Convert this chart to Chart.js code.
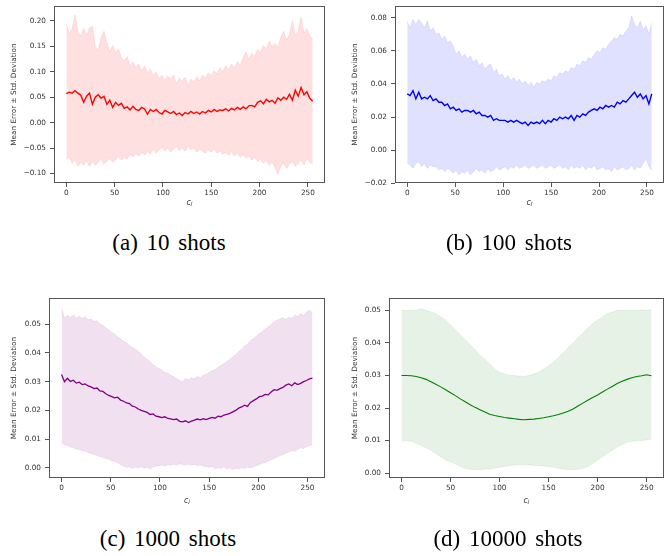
<!DOCTYPE html>
<html><head><meta charset="utf-8">
<script src="https://cdn.jsdelivr.net/npm/chart.js"></script>
<style>
html,body{margin:0;padding:0;background:#fff;width:664px;height:556px;overflow:hidden;position:relative}
canvas{position:absolute}
.cap{position:absolute;width:300px;text-align:center;font-family:"Liberation Serif","Times New Roman",serif;font-size:23px;line-height:23px;word-spacing:3px;color:#000;white-space:nowrap}
</style></head><body>
<canvas id="cA"></canvas>
<canvas id="cB"></canvas>
<canvas id="cC"></canvas>
<canvas id="cD"></canvas>
<div class="cap" style="left:19px;top:231px">(a) 10 shots</div>
<div class="cap" style="left:359px;top:231px">(b) 100 shots</div>
<div class="cap" style="left:18px;top:527px">(c) 1000 shots</div>
<div class="cap" style="left:358px;top:527px">(d) 10000 shots</div>
<script>
// ---- data ----
const xs3 = [0,3,6,9,12,15,18,21,24,27,30,33,36,39,42,45,48,51,54,57,60,63,66,69,72,75,78,81,84,87,90,93,96,99,102,105,108,111,114,117,120,123,126,129,132,135,138,141,144,147,150,153,156,159,162,165,168,171,174,177,180,183,186,189,192,195,198,201,204,207,210,213,216,219,222,225,228,231,234,237,240,243,246,249,252,255];
const xs5 = [0,5,10,15,20,25,30,35,40,45,50,55,60,65,70,75,80,85,90,95,100,105,110,115,120,125,130,135,140,145,150,155,160,165,170,175,180,185,190,195,200,205,210,215,220,225,230,235,240,245,250,255];
const xTicks = [0,50,100,150,200,250];
const xTickLabels = ["0","50","100","150","200","250"];

// (a) 10 shots
const meanA = [0.057,0.060,0.058,0.063,0.058,0.054,0.040,0.052,0.058,0.036,0.050,0.055,0.048,0.052,0.036,0.044,0.030,0.040,0.034,0.038,0.028,0.031,0.025,0.032,0.026,0.024,0.030,0.027,0.017,0.026,0.022,0.026,0.020,0.017,0.024,0.021,0.018,0.022,0.016,0.019,0.014,0.020,0.017,0.022,0.018,0.021,0.017,0.022,0.019,0.024,0.021,0.026,0.022,0.025,0.024,0.027,0.023,0.028,0.025,0.030,0.026,0.031,0.027,0.033,0.034,0.031,0.040,0.043,0.037,0.046,0.041,0.044,0.038,0.049,0.044,0.050,0.046,0.056,0.044,0.064,0.052,0.069,0.055,0.061,0.048,0.042];
const upperA = [0.195,0.175,0.185,0.212,0.180,0.170,0.185,0.172,0.186,0.190,0.150,0.142,0.168,0.180,0.158,0.140,0.152,0.138,0.145,0.128,0.122,0.130,0.112,0.120,0.108,0.115,0.102,0.112,0.098,0.105,0.092,0.100,0.086,0.094,0.083,0.092,0.086,0.094,0.076,0.088,0.082,0.090,0.073,0.086,0.080,0.090,0.082,0.094,0.088,0.098,0.092,0.102,0.096,0.108,0.100,0.112,0.104,0.115,0.108,0.120,0.114,0.128,0.140,0.124,0.136,0.130,0.144,0.138,0.152,0.145,0.160,0.150,0.156,0.148,0.168,0.180,0.162,0.174,0.200,0.172,0.180,0.208,0.176,0.185,0.170,0.165];
const lowerA = [-0.072,-0.068,-0.080,-0.072,-0.086,-0.078,-0.084,-0.074,-0.086,-0.076,-0.084,-0.078,-0.072,-0.082,-0.076,-0.070,-0.078,-0.072,-0.066,-0.074,-0.068,-0.072,-0.062,-0.068,-0.060,-0.066,-0.058,-0.064,-0.056,-0.062,-0.052,-0.060,-0.054,-0.048,-0.056,-0.050,-0.058,-0.052,-0.047,-0.055,-0.050,-0.056,-0.046,-0.054,-0.050,-0.058,-0.052,-0.056,-0.060,-0.054,-0.058,-0.052,-0.060,-0.056,-0.062,-0.058,-0.064,-0.056,-0.066,-0.060,-0.068,-0.062,-0.070,-0.066,-0.074,-0.068,-0.076,-0.072,-0.080,-0.074,-0.084,-0.078,-0.088,-0.102,-0.086,-0.080,-0.090,-0.082,-0.076,-0.086,-0.080,-0.074,-0.084,-0.070,-0.078,-0.082];
const yTicksA = [-0.10,-0.05,0.00,0.05,0.10,0.15,0.20];
const yLabelsA = ["\u22120.10","\u22120.05","0.00","0.05","0.10","0.15","0.20"];

// (b) 100 shots
const meanB = [0.034,0.033,0.036,0.031,0.035,0.031,0.032,0.031,0.033,0.030,0.031,0.029,0.029,0.027,0.028,0.025,0.026,0.024,0.025,0.023,0.024,0.024,0.023,0.024,0.022,0.023,0.021,0.021,0.020,0.021,0.018,0.019,0.018,0.018,0.018,0.017,0.018,0.017,0.018,0.017,0.016,0.017,0.015,0.017,0.016,0.017,0.016,0.018,0.016,0.018,0.017,0.019,0.018,0.020,0.019,0.020,0.019,0.021,0.018,0.021,0.020,0.022,0.021,0.023,0.024,0.025,0.024,0.026,0.025,0.027,0.026,0.027,0.026,0.029,0.028,0.030,0.029,0.031,0.033,0.035,0.032,0.034,0.031,0.033,0.028,0.034];
const upperB = [0.078,0.074,0.079,0.076,0.079,0.077,0.074,0.078,0.072,0.074,0.070,0.071,0.067,0.069,0.065,0.066,0.063,0.058,0.060,0.056,0.058,0.055,0.057,0.053,0.055,0.051,0.053,0.049,0.051,0.052,0.047,0.049,0.045,0.046,0.043,0.045,0.042,0.044,0.041,0.043,0.040,0.042,0.039,0.041,0.038,0.041,0.040,0.042,0.041,0.043,0.042,0.045,0.044,0.047,0.046,0.048,0.047,0.050,0.049,0.052,0.051,0.054,0.053,0.056,0.055,0.058,0.060,0.059,0.062,0.061,0.064,0.066,0.068,0.067,0.070,0.069,0.072,0.074,0.081,0.076,0.074,0.078,0.073,0.075,0.070,0.077];
const lowerB = [-0.008,-0.009,-0.011,-0.008,-0.007,-0.010,-0.008,-0.011,-0.009,-0.010,-0.010,-0.012,-0.011,-0.013,-0.011,-0.012,-0.014,-0.012,-0.015,-0.013,-0.014,-0.012,-0.015,-0.013,-0.011,-0.013,-0.012,-0.014,-0.011,-0.013,-0.012,-0.010,-0.012,-0.011,-0.010,-0.012,-0.010,-0.011,-0.009,-0.011,-0.010,-0.009,-0.011,-0.010,-0.009,-0.011,-0.010,-0.009,-0.011,-0.010,-0.009,-0.011,-0.010,-0.009,-0.011,-0.010,-0.012,-0.009,-0.011,-0.010,-0.011,-0.009,-0.012,-0.010,-0.011,-0.009,-0.012,-0.011,-0.010,-0.012,-0.011,-0.013,-0.010,-0.012,-0.011,-0.010,-0.012,-0.011,-0.009,-0.012,-0.010,-0.011,-0.008,-0.005,-0.010,-0.012];
const yTicksB = [-0.02,0.00,0.02,0.04,0.06,0.08];
const yLabelsB = ["\u22120.02","0.00","0.02","0.04","0.06","0.08"];

// (c) 1000 shots
const meanC = [0.0325,0.0300,0.0312,0.0301,0.0305,0.0295,0.0298,0.0290,0.0292,0.0285,0.0282,0.0276,0.0278,0.0268,0.0266,0.0258,0.0252,0.0248,0.0244,0.0246,0.0236,0.0232,0.0226,0.0224,0.0215,0.0212,0.0205,0.0200,0.0197,0.0193,0.0186,0.0188,0.0180,0.0178,0.0175,0.0178,0.0172,0.0171,0.0168,0.0170,0.0162,0.0160,0.0164,0.0158,0.0163,0.0166,0.0170,0.0167,0.0171,0.0168,0.0172,0.0176,0.0173,0.0180,0.0178,0.0184,0.0186,0.0190,0.0195,0.0200,0.0208,0.0212,0.0218,0.0214,0.0228,0.0234,0.0240,0.0248,0.0250,0.0256,0.0254,0.0264,0.0272,0.0270,0.0276,0.0280,0.0288,0.0292,0.0286,0.0296,0.0290,0.0294,0.0300,0.0304,0.0310,0.0312];
const upperC = [0.0558,0.0522,0.0530,0.0524,0.0532,0.0521,0.0528,0.0519,0.0526,0.0515,0.0518,0.0509,0.0512,0.0500,0.0496,0.0488,0.0480,0.0472,0.0466,0.0455,0.0448,0.0440,0.0436,0.0425,0.0420,0.0412,0.0405,0.0396,0.0385,0.0378,0.0368,0.0360,0.0352,0.0346,0.0340,0.0332,0.0330,0.0322,0.0318,0.0310,0.0304,0.0300,0.0312,0.0306,0.0314,0.0310,0.0318,0.0314,0.0322,0.0326,0.0332,0.0338,0.0342,0.0350,0.0356,0.0362,0.0370,0.0378,0.0386,0.0394,0.0404,0.0414,0.0424,0.0430,0.0442,0.0450,0.0458,0.0468,0.0474,0.0484,0.0490,0.0500,0.0508,0.0514,0.0518,0.0522,0.0516,0.0524,0.0520,0.0532,0.0526,0.0538,0.0530,0.0542,0.0548,0.0540];
const lowerC = [0.0090,0.0080,0.0078,0.0073,0.0070,0.0066,0.0064,0.0060,0.0058,0.0054,0.0050,0.0047,0.0043,0.0040,0.0037,0.0032,0.0030,0.0025,0.0022,0.0018,0.0012,0.0006,0.0002,0.0004,-0.0002,0.0003,0.0000,0.0004,-0.0001,0.0002,-0.0004,0.0003,0.0006,0.0008,0.0010,0.0007,0.0011,0.0009,0.0013,0.0010,0.0014,0.0012,0.0010,0.0013,0.0009,0.0011,0.0008,0.0010,0.0006,0.0004,0.0002,0.0004,-0.0004,0.0001,-0.0002,0.0003,-0.0003,0.0000,-0.0005,-0.0001,-0.0003,0.0001,-0.0002,0.0002,0.0000,0.0004,0.0008,0.0012,0.0016,0.0019,0.0024,0.0028,0.0033,0.0038,0.0042,0.0046,0.0052,0.0056,0.0060,0.0058,0.0065,0.0070,0.0068,0.0074,0.0078,0.0080];
const yTicksC = [0.00,0.01,0.02,0.03,0.04,0.05];
const yLabelsC = ["0.00","0.01","0.02","0.03","0.04","0.05"];

// (d) 10000 shots
const meanD = [0.0300,0.0300,0.0299,0.0297,0.0293,0.0288,0.0281,0.0273,0.0265,0.0256,0.0247,0.0238,0.0228,0.0219,0.0210,0.0202,0.0195,0.0188,0.0181,0.0177,0.0174,0.0171,0.0169,0.0167,0.0165,0.0164,0.0165,0.0166,0.0168,0.0170,0.0173,0.0176,0.0180,0.0185,0.0190,0.0197,0.0206,0.0215,0.0224,0.0232,0.0240,0.0249,0.0258,0.0266,0.0275,0.0282,0.0288,0.0293,0.0297,0.0299,0.0302,0.0299];
const upperD = [0.0500,0.0500,0.0501,0.0500,0.0505,0.0500,0.0495,0.0490,0.0480,0.0470,0.0455,0.0440,0.0425,0.0410,0.0395,0.0380,0.0362,0.0350,0.0335,0.0320,0.0310,0.0305,0.0300,0.0300,0.0298,0.0297,0.0300,0.0305,0.0310,0.0320,0.0330,0.0340,0.0355,0.0370,0.0385,0.0400,0.0415,0.0430,0.0445,0.0460,0.0470,0.0480,0.0490,0.0495,0.0500,0.0500,0.0501,0.0500,0.0500,0.0502,0.0500,0.0502];
const lowerD = [0.0100,0.0100,0.0098,0.0092,0.0085,0.0078,0.0070,0.0060,0.0050,0.0040,0.0035,0.0028,0.0020,0.0015,0.0012,0.0010,0.0010,0.0012,0.0013,0.0015,0.0018,0.0020,0.0023,0.0025,0.0026,0.0026,0.0025,0.0024,0.0023,0.0022,0.0020,0.0018,0.0015,0.0013,0.0011,0.0010,0.0012,0.0015,0.0020,0.0030,0.0040,0.0050,0.0060,0.0070,0.0080,0.0088,0.0095,0.0098,0.0100,0.0100,0.0102,0.0105];
const yTicksD = [0.00,0.01,0.02,0.03,0.04,0.05];
const yLabelsD = ["0.00","0.01","0.02","0.03","0.04","0.05"];

const yTitle = "Mean Error \u00b1 Std. Deviation";
const xTitle = "c\u2c7c";

// ---- drawing ----
const AX = '#555', TXT = '#333';
const tickFont = {family: "'DejaVu Sans', sans-serif", size: 7.3};
const framePlugin = {
  id: 'frame',
  afterDraw(chart) {
    const {ctx, chartArea: {left, top, right, bottom}} = chart;
    ctx.save(); ctx.strokeStyle = AX; ctx.lineWidth = 1;
    ctx.strokeRect(left + 0.5, top + 0.5, right - left - 1, bottom - top - 1);
    ctx.restore();
  }
};
const pts = (xv, arr) => xv.map((x, i) => ({x: x, y: arr[i]}));

function panel(p) {
  const cv = document.getElementById(p.id);
  cv.width = p.w; cv.height = p.h;
  cv.style.left = p.left + 'px'; cv.style.top = p.top + 'px';
  cv.style.width = p.w + 'px'; cv.style.height = p.h + 'px';
  new Chart(cv, {
    type: 'line',
    data: {datasets: [
      {data: pts(p.xs, p.mean), borderColor: p.line, borderWidth: p.lw, pointRadius: 0, fill: false, tension: 0},
      {data: pts(p.xs, p.upper), borderColor: p.edge, borderWidth: 1, pointRadius: 0, backgroundColor: p.fillc, fill: '+1', tension: 0},
      {data: pts(p.xs, p.lower), borderColor: p.edge, borderWidth: 1, pointRadius: 0, fill: false, tension: 0}
    ]},
    options: {
      responsive: false, animation: false, devicePixelRatio: 1,
      layout: {padding: {left: 0, top: 20, right: 20, bottom: 0}},
      plugins: {legend: {display: false}, tooltip: {enabled: false}},
      scales: {
        x: {
          type: 'linear', min: -12.75, max: 267.75,
          afterBuildTicks: s => { s.ticks = xTicks.map(v => ({value: v})); },
          afterFit: s => { s.height = p.xH; },
          grid: {drawOnChartArea: false, drawTicks: true, tickLength: 4, color: AX, lineWidth: 1},
          border: {display: false},
          ticks: {font: tickFont, color: TXT, padding: 2, maxRotation: 0, autoSkip: false,
                  callback: (v, i) => xTickLabels[i]},
          title: {display: true, text: xTitle, color: TXT, padding: {top: 0, bottom: 2},
                  font: {family: "'DejaVu Sans', sans-serif", size: 8, style: 'italic'}}
        },
        y: {
          type: 'linear', min: p.yMin, max: p.yMax,
          afterBuildTicks: s => { s.ticks = p.yTicks.map(v => ({value: v})); },
          afterFit: s => { s.width = p.yW; },
          grid: {drawOnChartArea: false, drawTicks: true, tickLength: 4, color: AX, lineWidth: 1},
          border: {display: false},
          ticks: {font: tickFont, color: TXT, padding: 4, autoSkip: false,
                  callback: (v, i) => p.yLabels[i]},
          title: {display: true, text: yTitle, color: TXT, padding: {top: p.yTitlePad, bottom: 0},
                  font: {family: "'DejaVu Sans', sans-serif", size: 7.3}}
        }
      }
    },
    plugins: [framePlugin]
  });
}

panel({id: 'cA', left: 0, top: -14, w: 345, h: 224, yW: 54, xH: 27, yTitlePad: 9.9, xs: xs3,
  mean: meanA, upper: upperA, lower: lowerA, yMin: -0.1187, yMax: 0.2295, yTicks: yTicksA, yLabels: yLabelsA,
  line: 'rgb(255,0,0)', lw: 1.4, fillc: 'rgba(255,0,0,0.12)', edge: 'rgba(255,0,0,0.09)'});
panel({id: 'cB', left: 332, top: -14, w: 352, h: 224, yW: 63, xH: 27, yTitlePad: 19.1, xs: xs3,
  mean: meanB, upper: upperB, lower: lowerB, yMin: -0.0198, yMax: 0.0871, yTicks: yTicksB, yLabels: yLabelsB,
  line: 'rgb(0,0,255)', lw: 1.4, fillc: 'rgba(0,0,255,0.12)', edge: 'rgba(0,0,255,0.08)'});
panel({id: 'cC', left: 0, top: 278, w: 345, h: 230, yW: 49, xH: 30, yTitlePad: 10.1, xs: xs3,
  mean: meanC, upper: upperC, lower: lowerC, yMin: -0.0035, yMax: 0.0591, yTicks: yTicksC, yLabels: yLabelsC,
  line: 'rgb(128,0,128)', lw: 1.3, fillc: 'rgba(128,0,128,0.12)', edge: 'rgba(128,0,128,0.08)'});
panel({id: 'cD', left: 332, top: 278, w: 352, h: 230, yW: 57, xH: 30, yTitlePad: 19.1, xs: xs5,
  mean: meanD, upper: upperD, lower: lowerD, yMin: -0.0015, yMax: 0.0538, yTicks: yTicksD, yLabels: yLabelsD,
  line: 'rgb(0,128,0)', lw: 1.1, fillc: 'rgba(0,128,0,0.10)', edge: 'rgba(0,128,0,0.07)'});
</script>
</body></html>
